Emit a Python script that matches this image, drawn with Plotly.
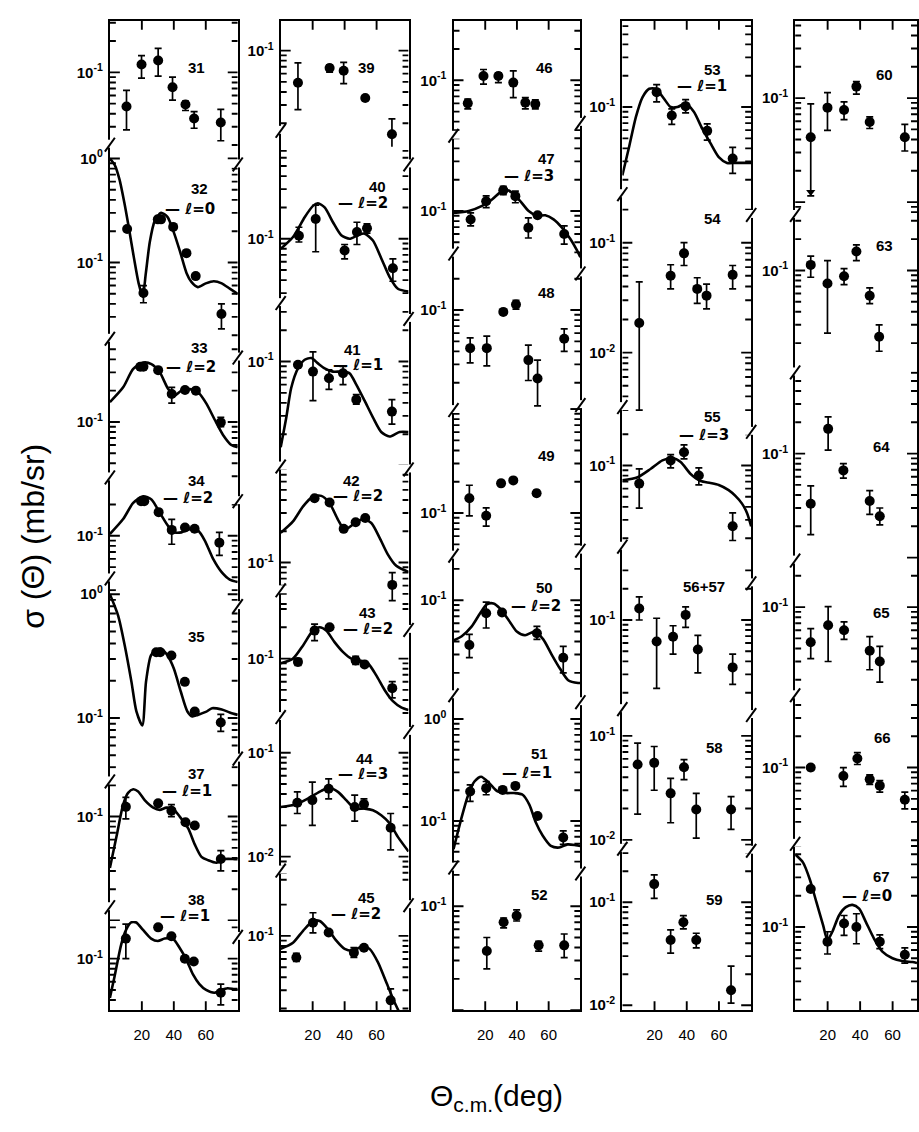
import math
import plotly.graph_objects as go

W, H = 919, 1132

# ---------------- data: theta_cm (deg) and sigma (mb/sr) ----------------
# panel 31
x31 = [10.4, 19.8, 30.2, 39.2, 47.3, 52.7, 69.4]
y31 = [0.047, 0.119, 0.13, 0.072, 0.049, 0.036, 0.033]
lo31 = [0.028, 0.088, 0.092, 0.054, 0.043, 0.029, 0.022]
hi31 = [0.067, 0.145, 0.17, 0.09, 0.053, 0.042, 0.044]
# panel 32
x32 = [10.8, 21.0, 30.0, 32.0, 39.6, 47.9, 53.7, 69.8]
y32 = [0.21, 0.051, 0.26, 0.26, 0.22, 0.123, 0.074, 0.032]
lo32 = [0.21, 0.041, 0.26, 0.26, 0.22, 0.123, 0.074, 0.023]
hi32 = [0.21, 0.060, 0.26, 0.26, 0.22, 0.123, 0.074, 0.040]
cx32 = [0, 3, 6, 9, 12, 15, 18, 20.5, 22.5, 25, 28, 32, 36, 40, 44, 48, 51, 55, 60, 65, 70, 75, 80]
cy32 = [1.0, 0.87, 0.63, 0.38, 0.21, 0.112, 0.063, 0.047, 0.079, 0.158, 0.25, 0.30, 0.275, 0.195,
        0.126, 0.079, 0.065, 0.058, 0.063, 0.066, 0.063, 0.056, 0.05]
# panel 33
x33 = [19.0, 21.0, 30.2, 38.7, 47.0, 53.8, 69.4]
y33 = [0.34, 0.34, 0.315, 0.186, 0.203, 0.20, 0.099]
lo33 = [0.34, 0.34, 0.315, 0.152, 0.203, 0.20, 0.090]
hi33 = [0.34, 0.34, 0.315, 0.215, 0.203, 0.20, 0.111]
cx33 = [0, 8.3, 14.6, 20.8, 26, 31.2, 36.5, 40.6, 44.8, 50, 55.2, 60.4, 65.6, 70.8, 76, 80]
cy33 = [0.155, 0.215, 0.324, 0.372, 0.36, 0.30, 0.207, 0.18, 0.20, 0.207, 0.193, 0.15, 0.105, 0.075, 0.06, 0.057]
# panel 34
x34 = [19.5, 21.5, 30.5, 38.7, 47.0, 53.0, 68.5]
y34 = [0.215, 0.215, 0.169, 0.114, 0.12, 0.117, 0.086]
lo34 = [0.215, 0.215, 0.169, 0.083, 0.12, 0.117, 0.065]
hi34 = [0.215, 0.215, 0.169, 0.144, 0.12, 0.117, 0.108]
cx34 = [0, 8.3, 14.6, 20.8, 26, 31.2, 36.5, 40.6, 44.8, 50, 55.2, 59.4, 64.6, 69.8, 75, 80]
cy34 = [0.104, 0.145, 0.207, 0.24, 0.224, 0.167, 0.124, 0.108, 0.108, 0.116, 0.112, 0.09, 0.06, 0.045, 0.038, 0.036]
# panel 35
x35 = [29.0, 31.5, 38.5, 46.9, 53.1, 69.4]
y35 = [0.34, 0.34, 0.32, 0.196, 0.113, 0.092]
lo35 = [0.34, 0.34, 0.32, 0.196, 0.113, 0.078]
hi35 = [0.34, 0.34, 0.32, 0.196, 0.113, 0.107]
cx35 = [0, 5.2, 9.3, 13.5, 16.6, 20.3, 22.6, 25.7, 28.8, 32, 36, 40, 44.4, 48.5, 51.6, 55, 60, 64, 70, 75, 80]
cy35 = [1.0, 0.67, 0.386, 0.196, 0.113, 0.087, 0.196, 0.321, 0.352, 0.363, 0.321, 0.251, 0.163, 0.113,
        0.103, 0.106, 0.112, 0.12, 0.117, 0.111, 0.106]
# panel 37
x37 = [10.0, 30.2, 38.5, 47.3, 53.1, 69.4]
y37 = [0.124, 0.134, 0.114, 0.088, 0.082, 0.039]
lo37 = [0.095, 0.134, 0.10, 0.088, 0.082, 0.030]
hi37 = [0.153, 0.134, 0.13, 0.088, 0.082, 0.047]
cx37 = [0, 4.2, 8.3, 11.4, 14.6, 17.7, 21.9, 27.1, 31.2, 35.4, 39.6, 43.7, 49, 53.1, 57.3, 61.5, 66.7, 71.9, 78.1, 80]
cy37 = [0.032, 0.065, 0.13, 0.169, 0.183, 0.174, 0.143, 0.122, 0.116, 0.122, 0.118, 0.10, 0.077, 0.054,
        0.041, 0.038, 0.036, 0.039, 0.039, 0.039]
# panel 38
x38 = [10.0, 30.2, 38.5, 46.9, 52.5, 69.4]
y38 = [0.156, 0.20, 0.164, 0.10, 0.094, 0.047]
lo38 = [0.10, 0.20, 0.164, 0.10, 0.094, 0.036]
hi38 = [0.215, 0.20, 0.164, 0.10, 0.094, 0.057]
cx38 = [0, 2.9, 7.1, 10.2, 13.3, 16.5, 20.6, 25.8, 30, 34.2, 39.4, 43.5, 47.7, 51.9, 56, 60.2, 65.4, 69.6, 73.7, 77.9, 80]
cy38 = [0.042, 0.067, 0.137, 0.19, 0.223, 0.223, 0.19, 0.156, 0.148, 0.156, 0.156, 0.128, 0.099, 0.071,
        0.057, 0.050, 0.047, 0.050, 0.052, 0.051, 0.051]
# panel 39
x39 = [10.8, 30.6, 39.4, 52.9, 69.6]
y39 = [0.049, 0.068, 0.064, 0.035, 0.0157]
lo39 = [0.027, 0.062, 0.048, 0.035, 0.010]
hi39 = [0.076, 0.073, 0.077, 0.035, 0.022]
# panel 40
x40 = [11.4, 21.9, 40.0, 47.7, 54.0, 70.2]
y40 = [0.107, 0.155, 0.077, 0.116, 0.126, 0.052]
lo40 = [0.093, 0.075, 0.064, 0.088, 0.113, 0.039]
hi40 = [0.129, 0.21, 0.088, 0.144, 0.139, 0.064]
cx40 = [0, 7.7, 15, 20.2, 23.3, 27.5, 32.7, 37.9, 43.1, 48.3, 52.5, 57.7, 62.9, 68.1, 73.3, 80]
cy40 = [0.080, 0.104, 0.161, 0.207, 0.219, 0.20, 0.144, 0.108, 0.10, 0.108, 0.112, 0.096, 0.065, 0.043, 0.033, 0.031]
# panel 41
x41 = [10.8, 20.2, 30.2, 39.0, 47.3, 69.6]
y41 = [0.093, 0.080, 0.069, 0.077, 0.043, 0.033]
lo41 = [0.093, 0.042, 0.054, 0.060, 0.039, 0.025]
hi41 = [0.093, 0.124, 0.083, 0.090, 0.048, 0.043]
cx41 = [0, 3.5, 6.6, 10.8, 15, 19.2, 23.3, 27.5, 32.7, 37.9, 43.1, 47.3, 52.5, 57.7, 62.9, 68.1, 74.4, 80]
cy41 = [0.015, 0.029, 0.056, 0.086, 0.104, 0.108, 0.096, 0.086, 0.080, 0.080, 0.077, 0.060, 0.042, 0.029,
        0.021, 0.019, 0.021, 0.021]
# panel 42
x42 = [21.2, 30.6, 39.4, 46.9, 52.9, 69.8]
y42 = [0.416, 0.378, 0.211, 0.244, 0.268, 0.061]
lo42 = [0.416, 0.378, 0.211, 0.244, 0.268, 0.043]
hi42 = [0.416, 0.378, 0.211, 0.244, 0.268, 0.080]
cx42 = [0, 7.7, 14, 20.2, 25.4, 30.6, 35.8, 40, 45.2, 51.5, 56.7, 61.9, 67, 72.3, 80]
cy42 = [0.193, 0.249, 0.347, 0.432, 0.438, 0.372, 0.259, 0.207, 0.232, 0.262, 0.24, 0.173, 0.12, 0.093, 0.081]
# panel 43
x43 = [10.8, 21.2, 30.6, 46.9, 52.5, 69.8]
y43 = [0.093, 0.186, 0.20, 0.096, 0.088, 0.052]
lo43 = [0.086, 0.149, 0.20, 0.088, 0.088, 0.042]
hi43 = [0.10, 0.215, 0.20, 0.105, 0.088, 0.060]
cx43 = [0, 7.7, 14, 20.2, 24.4, 28.5, 33.7, 38.9, 44.2, 49.4, 54.6, 59.8, 65, 70.2, 75.4, 80]
cy43 = [0.090, 0.10, 0.134, 0.186, 0.20, 0.186, 0.144, 0.116, 0.10, 0.096, 0.090, 0.069, 0.050, 0.039, 0.034, 0.032]
# panel 44
x44 = [10.4, 19.8, 30.0, 46.3, 52.1, 68.8]
y44 = [0.033, 0.035, 0.045, 0.030, 0.032, 0.019]
lo44 = [0.026, 0.020, 0.036, 0.022, 0.029, 0.0116]
hi44 = [0.042, 0.052, 0.056, 0.039, 0.036, 0.026]
cx44 = [0, 9.8, 18.1, 25.4, 30.6, 35.8, 41, 46.3, 52.5, 57.7, 62.9, 68.1, 73.3, 80]
cy44 = [0.030, 0.032, 0.037, 0.043, 0.046, 0.042, 0.035, 0.029, 0.029, 0.028, 0.025, 0.021, 0.0155, 0.0112]
# panel 45
x45 = [9.8, 20.2, 30.0, 45.8, 52.1, 68.8]
y45 = [0.062, 0.134, 0.108, 0.069, 0.077, 0.024]
lo45 = [0.057, 0.107, 0.108, 0.062, 0.077, 0.019]
hi45 = [0.068, 0.167, 0.108, 0.077, 0.077, 0.031]
cx45 = [0, 7.7, 14, 20.2, 24.4, 29.6, 34.8, 40, 45.2, 51.5, 55.6, 60.8, 66, 71.2, 76.5, 80]
cy45 = [0.075, 0.086, 0.112, 0.139, 0.139, 0.116, 0.090, 0.075, 0.072, 0.080, 0.075, 0.056, 0.036, 0.023, 0.016, 0.0139]
# panel 46
x46 = [9.0, 18.9, 28.3, 37.7, 45.3, 51.6]
y46 = [0.060, 0.11, 0.11, 0.095, 0.061, 0.059]
lo46 = [0.053, 0.092, 0.095, 0.068, 0.053, 0.053]
hi46 = [0.066, 0.127, 0.118, 0.123, 0.068, 0.065]
# panel 47
x47 = [10.8, 20.6, 31.4, 39.0, 47.2, 53.0, 69.8]
y47 = [0.083, 0.124, 0.158, 0.139, 0.069, 0.091, 0.060]
lo47 = [0.072, 0.108, 0.144, 0.12, 0.055, 0.091, 0.048]
hi47 = [0.096, 0.14, 0.173, 0.155, 0.086, 0.091, 0.072]
cx47 = [0, 9.6, 18, 24.3, 29.6, 32.7, 36.9, 42.2, 47.4, 52.6, 57.9, 63.1, 68.4, 73.6, 77.8, 80]
cy47 = [0.096, 0.10, 0.112, 0.129, 0.152, 0.161, 0.15, 0.124, 0.10, 0.090, 0.091, 0.083, 0.069, 0.054, 0.042, 0.036]
# panel 48
x48 = [10.5, 21.0, 31.4, 39.4, 47.2, 53.0, 69.8]
y48 = [0.043, 0.043, 0.096, 0.113, 0.033, 0.022, 0.053]
lo48 = [0.031, 0.029, 0.096, 0.102, 0.021, 0.012, 0.040]
hi48 = [0.054, 0.056, 0.096, 0.124, 0.046, 0.033, 0.066]
# panel 49
x49 = [10.0, 20.6, 30.0, 37.7, 52.4]
y49 = [0.139, 0.094, 0.193, 0.206, 0.155]
lo49 = [0.094, 0.075, 0.185, 0.198, 0.145]
hi49 = [0.185, 0.112, 0.205, 0.216, 0.165]
# panel 50
x50 = [10.0, 20.6, 30.6, 52.6, 69.2]
y50 = [0.037, 0.075, 0.076, 0.048, 0.028]
lo50 = [0.028, 0.054, 0.076, 0.042, 0.020]
hi50 = [0.047, 0.096, 0.076, 0.056, 0.036]
cx50 = [0, 5.2, 11.5, 16.8, 21, 25.2, 29.4, 34.6, 39.9, 45.1, 51.4, 56.6, 61.9, 67.1, 72.3, 78.6, 80]
cy50 = [0.041, 0.045, 0.056, 0.075, 0.091, 0.093, 0.083, 0.065, 0.050, 0.046, 0.050, 0.042, 0.030, 0.022,
        0.017, 0.016, 0.016]
# panel 51
x51 = [10.5, 20.6, 31.0, 39.0, 53.0, 69.2]
y51 = [0.195, 0.21, 0.202, 0.221, 0.112, 0.069]
lo51 = [0.156, 0.181, 0.202, 0.221, 0.112, 0.059]
hi51 = [0.226, 0.244, 0.202, 0.221, 0.112, 0.080]
cx51 = [0, 4.8, 9, 13.2, 17.4, 22.6, 27.8, 33.1, 38.4, 43.6, 47.8, 52, 56.2, 61.4, 66.7, 71.9, 77.1, 80]
cy51 = [0.053, 0.104, 0.175, 0.244, 0.272, 0.235, 0.195, 0.188, 0.188, 0.181, 0.145, 0.096, 0.072, 0.057,
        0.055, 0.059, 0.058, 0.057]
# panel 52
x52 = [21.0, 31.6, 39.8, 53.7, 69.8]
y52 = [0.037, 0.070, 0.081, 0.042, 0.042]
lo52 = [0.025, 0.062, 0.072, 0.037, 0.032]
hi52 = [0.050, 0.077, 0.092, 0.046, 0.054]
# panel 53
x53 = [21.3, 30.7, 39.3, 52.7, 68.5]
y53 = [0.139, 0.083, 0.102, 0.059, 0.032]
lo53 = [0.112, 0.068, 0.088, 0.048, 0.023]
hi53 = [0.164, 0.096, 0.118, 0.069, 0.041]
cx53 = [0, 4.3, 8.4, 12.5, 16.7, 20.8, 25.9, 30, 34.2, 39.3, 44.4, 49.6, 54.7, 59.9, 65, 70.2, 80]
cy53 = [0.022, 0.042, 0.080, 0.124, 0.15, 0.15, 0.12, 0.10, 0.10, 0.108, 0.090, 0.062, 0.045, 0.033, 0.029, 0.029, 0.029]
# panel 54
x54 = [10.5, 30.0, 38.3, 46.5, 52.3, 68.5]
y54 = [0.0186, 0.050, 0.080, 0.038, 0.033, 0.051]
lo54 = [0.003, 0.038, 0.062, 0.028, 0.025, 0.038]
hi54 = [0.044, 0.063, 0.10, 0.048, 0.042, 0.062]
# panel 55
x55 = [10.5, 30.0, 38.3, 47.5, 68.5]
y55 = [0.067, 0.112, 0.134, 0.080, 0.026]
lo55 = [0.039, 0.095, 0.116, 0.065, 0.019]
hi55 = [0.093, 0.127, 0.158, 0.095, 0.035]
cx55 = [0, 9.5, 17.7, 24.9, 31.1, 36.2, 42.4, 48.6, 54.7, 59.9, 66, 70.2, 74.3, 77.4, 80]
cy55 = [0.072, 0.077, 0.093, 0.112, 0.118, 0.108, 0.083, 0.071, 0.068, 0.065, 0.058, 0.051, 0.043, 0.035, 0.026]
# panel 56+57
x56 = [10.5, 21.3, 31.5, 39.3, 46.9, 68.5]
y56 = [0.129, 0.062, 0.069, 0.112, 0.052, 0.035]
lo56 = [0.10, 0.022, 0.047, 0.085, 0.031, 0.024]
hi56 = [0.167, 0.104, 0.088, 0.134, 0.071, 0.047]
# panel 58
x58 = [9.5, 19.8, 30.0, 38.3, 45.9, 67.5]
y58 = [0.053, 0.055, 0.028, 0.050, 0.0196, 0.0196]
lo58 = [0.0177, 0.030, 0.0146, 0.038, 0.0104, 0.0126]
hi58 = [0.085, 0.079, 0.039, 0.059, 0.028, 0.026]
# panel 59
x59 = [19.8, 30.0, 37.9, 45.9, 67.5]
y59 = [0.150, 0.043, 0.064, 0.043, 0.014]
lo59 = [0.109, 0.032, 0.055, 0.036, 0.0105]
hi59 = [0.184, 0.054, 0.074, 0.050, 0.024]
# panel 60 (first point is an upper limit: arrow)
x60 = [9.6, 19.9, 30.1, 37.7, 45.9, 67.5]
y60 = [0.042, 0.081, 0.077, 0.129, 0.059, 0.042]
lo60 = [0.0115, 0.049, 0.062, 0.109, 0.051, 0.031]
hi60 = [0.088, 0.113, 0.092, 0.144, 0.066, 0.056]
ax60 = [9.6]
ay60 = [0.0125]
# panel 63
x63 = [9.6, 19.9, 30.1, 37.7, 45.9, 51.7]
y63 = [0.113, 0.075, 0.088, 0.152, 0.057, 0.023]
lo63 = [0.086, 0.025, 0.073, 0.124, 0.048, 0.0167]
hi63 = [0.137, 0.124, 0.104, 0.176, 0.068, 0.030]
# panel 64
x64 = [9.6, 20.3, 29.7, 45.9, 52.1]
y64 = [0.033, 0.173, 0.069, 0.035, 0.025]
lo64 = [0.0166, 0.108, 0.058, 0.026, 0.0206]
hi64 = [0.049, 0.226, 0.080, 0.044, 0.030]
# panel 65
x65 = [9.6, 20.3, 30.1, 45.9, 52.1]
y65 = [0.046, 0.067, 0.060, 0.038, 0.030]
lo65 = [0.032, 0.030, 0.049, 0.025, 0.019]
hi65 = [0.062, 0.101, 0.072, 0.052, 0.042]
# panel 66
x66 = [9.6, 29.7, 38.3, 45.9, 52.1, 67.5]
y66 = [0.10, 0.083, 0.122, 0.077, 0.067, 0.049]
lo66 = [0.094, 0.066, 0.107, 0.069, 0.058, 0.040]
hi66 = [0.106, 0.10, 0.139, 0.085, 0.075, 0.058]
# panel 67
x67 = [9.6, 19.9, 30.1, 37.7, 52.1, 67.5]
y67 = [0.232, 0.072, 0.108, 0.10, 0.072, 0.054]
lo67 = [0.232, 0.055, 0.083, 0.069, 0.062, 0.045]
hi67 = [0.232, 0.09, 0.129, 0.134, 0.084, 0.063]
cx67 = [0, 4.9, 9, 13.1, 17.2, 19.9, 22.9, 27, 31.2, 35.3, 39.4, 43.5, 48.6, 53.7, 59.9, 66, 72.2, 75]
cy67 = [0.50, 0.416, 0.288, 0.173, 0.104, 0.075, 0.09, 0.129, 0.155, 0.163, 0.15, 0.112, 0.077, 0.058,
        0.050, 0.047, 0.046, 0.045]

DATA = {
    "31": (x31, y31, lo31, hi31, None, None),
    "32": (x32, y32, lo32, hi32, cx32, cy32),
    "33": (x33, y33, lo33, hi33, cx33, cy33),
    "34": (x34, y34, lo34, hi34, cx34, cy34),
    "35": (x35, y35, lo35, hi35, cx35, cy35),
    "37": (x37, y37, lo37, hi37, cx37, cy37),
    "38": (x38, y38, lo38, hi38, cx38, cy38),
    "39": (x39, y39, lo39, hi39, None, None),
    "40": (x40, y40, lo40, hi40, cx40, cy40),
    "41": (x41, y41, lo41, hi41, cx41, cy41),
    "42": (x42, y42, lo42, hi42, cx42, cy42),
    "43": (x43, y43, lo43, hi43, cx43, cy43),
    "44": (x44, y44, lo44, hi44, cx44, cy44),
    "45": (x45, y45, lo45, hi45, cx45, cy45),
    "46": (x46, y46, lo46, hi46, None, None),
    "47": (x47, y47, lo47, hi47, cx47, cy47),
    "48": (x48, y48, lo48, hi48, None, None),
    "49": (x49, y49, lo49, hi49, None, None),
    "50": (x50, y50, lo50, hi50, cx50, cy50),
    "51": (x51, y51, lo51, hi51, cx51, cy51),
    "52": (x52, y52, lo52, hi52, None, None),
    "53": (x53, y53, lo53, hi53, cx53, cy53),
    "54": (x54, y54, lo54, hi54, None, None),
    "55": (x55, y55, lo55, hi55, cx55, cy55),
    "56": (x56, y56, lo56, hi56, None, None),
    "58": (x58, y58, lo58, hi58, None, None),
    "59": (x59, y59, lo59, hi59, None, None),
    "60": (x60, y60, lo60, hi60, None, None),
    "63": (x63, y63, lo63, hi63, None, None),
    "64": (x64, y64, lo64, hi64, None, None),
    "65": (x65, y65, lo65, hi65, None, None),
    "66": (x66, y66, lo66, hi66, None, None),
    "67": (x67, y67, lo67, hi67, cx67, cy67),
}

# panel labels (text, centre x px, centre y px)
NUM_LABELS = [
    ("31", 197, 60), ("32", 200, 182), ("33", 200, 343), ("34", 197, 477), ("35", 197, 635),
    ("37", 197, 773), ("38", 197, 900),
    ("39", 367, 60), ("40", 378, 180), ("41", 353, 345), ("42", 352, 477), ("43", 368, 610),
    ("44", 365, 758), ("45", 367, 898),
    ("46", 545, 60), ("47", 547, 152), ("48", 547, 287), ("49", 547, 452), ("50", 545, 585),
    ("51", 540, 753), ("52", 540, 895),
    ("53", 713, 62), ("54", 713, 213), ("55", 713, 413), ("56+57", 705, 584), ("58", 715, 747),
    ("59", 715, 900),
    ("60", 885, 67), ("63", 885, 240), ("64", 882, 443), ("65", 882, 610), ("66", 883, 737),
    ("67", 882, 877),
]
L_LABELS = [
    ("0", 190, 203), ("2", 191, 363), ("2", 188, 495), ("1", 187, 791), ("1", 185, 917),
    ("2", 363, 197), ("1", 358, 360), ("2", 358, 493), ("2", 368, 627), ("3", 363, 774), ("2", 356, 915),
    ("3", 530, 170), ("2", 537, 604), ("1", 528, 773),
    ("1", 703, 79), ("3", 705, 431),
    ("0", 868, 897),
]

# ---------------- layout geometry (pixels) ----------------
COLS = [(110, 238, 80), (281, 409, 80), (454, 581, 80), (623, 752, 80), (796, 918, 75)]
# key, column, top px, bottom px, reference decade, its px, px per decade, labelled decades
SPECS = [
    ("31", 0, 13, 147, -1, 65, 105, [-1]),
    ("32", 0, 147, 342, 0, 152, 105, [0, -1]),
    ("33", 0, 342, 485, -1, 418, 105, [-1]),
    ("34", 0, 485, 589, -1, 533, 105, [-1]),
    ("35", 0, 589, 768, 0, 592, 125, [0, -1]),
    ("37", 0, 768, 922, -1, 816.5, 105, [-1]),
    ("38", 0, 922, 1012, -1, 960, 105, [-1]),
    ("39", 1, 13, 140, -1, 43, 105, [-1]),
    ("40", 1, 140, 305, -1, 233, 105, [-1]),
    ("41", 1, 305, 463, -1, 357, 105, [-1]),
    ("42", 1, 463, 605, -1, 560, 105, [-1]),
    ("43", 1, 605, 722, -1, 657, 105, [-1]),
    ("44", 1, 722, 887, -1, 752, 105, [-1, -2]),
    ("45", 1, 887, 1012, -1, 937, 105, [-1]),
    ("46", 2, 13, 122, -1, 73, 105, [-1]),
    ("47", 2, 122, 257, -1, 205, 105, [-1]),
    ("48", 2, 257, 403, -1, 305, 105, [-1]),
    ("49", 2, 403, 550, -1, 510, 105, [-1]),
    ("50", 2, 550, 697, -1, 598, 105, [-1]),
    ("51", 2, 697, 870, 0, 718, 103, [0, -1]),
    ("52", 2, 870, 1012, -1, 907, 105, [-1]),
    ("53", 3, 13, 197, -1, 100, 105, [-1]),
    ("54", 3, 197, 415, -1, 237, 111, [-1, -2]),
    ("55", 3, 415, 560, -1, 462, 105, [-1]),
    ("56", 3, 560, 710, -1, 618, 105, [-1]),
    ("58", 3, 710, 849, -1, 735, 105, [-1, -2]),
    ("59", 3, 849, 1012, -1, 903, 104, [-1, -2]),
    ("60", 4, 13, 208, -1, 91, 105, [-1]),
    ("63", 4, 208, 367, -1, 265, 105, [-1]),
    ("64", 4, 367, 557, -1, 450, 105, [-1]),
    ("65", 4, 557, 693, -1, 605, 105, [-1]),
    ("66", 4, 693, 843, -1, 767, 105, [-1]),
    ("67", 4, 843, 1012, -1, 928, 105, [-1]),
]
BREAKS_L = {0: [137, 333, 473, 575, 780, 907], 1: [123, 297, 462, 587, 715, 870],
            2: [128, 247, 405, 552, 693, 867], 3: [187, 402, 543, 707, 848], 4: [208, 367, 557, 693, 843]}
BREAKS_R = {0: [157, 352, 497, 603, 757, 937], 1: [157, 313, 465, 627, 730, 905],
            2: [115, 267, 400, 547, 700, 873], 3: [208, 427, 580, 713, 850], 4: []}
XTICKS = [20, 40, 60]
MAJOR_LEN, MINOR_LEN, XTICK_LEN = 10, 6, 9

FONT = "Liberation Sans, Arial, DejaVu Sans, sans-serif"
fig = go.Figure()
lay = {}
shapes = []

for i, (key, col, top, bot, e, epx, dpx, labd) in enumerate(SPECS, start=1):
    x0, x1, xr = COLS[col]
    pw, ph = x1 - x0, bot - top
    ppd = pw / xr
    ytop = e + (epx - top) / dpx
    ybot = e - (bot - epx) / dpx
    xn = "x" if i == 1 else f"x{i}"
    yn = "y" if i == 1 else f"y{i}"
    xs, ys, lo, hi, cx, cy = DATA[key]

    # tick ladders (both vertical borders) and x ticks, as thin line traces
    majors = [k for k in range(math.floor(ybot), math.ceil(ytop) + 1) if ybot <= k <= ytop]
    minors = []
    for k in range(math.floor(ybot) - 1, math.ceil(ytop) + 1):
        for m in range(2, 10):
            v = math.log10(m) + k
            if ybot + 0.008 <= v <= ytop - 0.008:
                minors.append(v)
    tx, ty = [], []
    for v, ln in [(k, MAJOR_LEN) for k in majors] + [(v, MINOR_LEN) for v in minors]:
        d = ln / ppd
        tx += [0, d, None, xr - d, xr, None]
        ty += [10 ** v, 10 ** v, None, 10 ** v, 10 ** v, None]
    is_top = top <= 13
    is_bot = bot >= 1012
    if is_top or is_bot:
        dl = XTICK_LEN / dpx
        for t in XTICKS:
            tx += [t, t, None]
            ty += ([10 ** ytop, 10 ** (ytop - dl), None] if is_top else [10 ** ybot, 10 ** (ybot + dl), None])
    fig.add_trace(go.Scatter(x=tx, y=ty, mode="lines", xaxis=xn, yaxis=yn, hoverinfo="skip",
                             line=dict(color="black", width=1.9)))

    if cx is not None:
        fig.add_trace(go.Scatter(x=cx, y=cy, mode="lines", xaxis=xn, yaxis=yn,
                                 line=dict(color="black", width=2.6, shape="spline", smoothing=0.7),
                                 hoverinfo="skip"))
    fig.add_trace(go.Scatter(
        x=xs, y=ys, mode="markers", xaxis=xn, yaxis=yn,
        marker=dict(color="black", size=10),
        error_y=dict(type="data", symmetric=False,
                     array=[h - v for h, v in zip(hi, ys)],
                     arrayminus=[v - l for l, v in zip(lo, ys)],
                     color="black", thickness=1.7, width=3.5)))
    if key == "60":
        fig.add_trace(go.Scatter(x=ax60, y=ay60, mode="markers", xaxis=xn, yaxis=yn,
                                 marker=dict(color="black", size=8, symbol="triangle-down")))

    xa = dict(domain=[x0 / W, x1 / W], range=[0, xr], anchor=yn, showgrid=False, zeroline=False,
              fixedrange=True, ticks="")
    if is_top:
        xa.update(side="top", showline=True, linecolor="black", linewidth=2.2, showticklabels=False)
    elif is_bot:
        xa.update(side="bottom", showline=True, linecolor="black", linewidth=2.2,
                  tickvals=XTICKS, ticktext=[str(t) for t in XTICKS], ticklabelstandoff=10,
                  tickfont=dict(size=15, color="black", family=FONT))
    else:
        xa.update(showline=False, showticklabels=False)

    ya = dict(domain=[1 - bot / H, 1 - top / H], type="log", range=[ybot, ytop], anchor=xn,
              showgrid=False, zeroline=False, fixedrange=True,
              showline=True, linecolor="black", linewidth=2.2, mirror=True, ticks="",
              tickmode="array", tickvals=[10 ** k for k in labd],
              ticktext=[f"<b>10<sup>{k}</sup></b>" for k in labd], ticklabelstandoff=2,
              tickfont=dict(size=15, color="black", family=FONT))
    lay["xaxis" if i == 1 else f"xaxis{i}"] = xa
    lay["yaxis" if i == 1 else f"yaxis{i}"] = ya

# break marks on the vertical borders
for col, (x0, x1, xr) in enumerate(COLS):
    for xpx, lst in ((x0, BREAKS_L[col]), (x1, BREAKS_R[col])):
        for ypx in lst:
            shapes.append(dict(type="rect", xref="paper", yref="paper", layer="above",
                               x0=(xpx - 11) / W, x1=(xpx + 11) / W, y0=1 - (ypx + 4) / H, y1=1 - (ypx - 4) / H,
                               fillcolor="white", line=dict(width=0)))
            shapes.append(dict(type="line", xref="paper", yref="paper", layer="above",
                               x0=(xpx - 5) / W, y0=1 - (ypx + 8) / H, x1=(xpx + 5) / W, y1=1 - (ypx - 6) / H,
                               line=dict(color="black", width=2)))

ann = []
for text, px, py in NUM_LABELS:
    ann.append(dict(x=px / W, y=1 - py / H, xref="paper", yref="paper", text=f"<b>{text}</b>",
                    showarrow=False, xanchor="center", yanchor="middle",
                    font=dict(size=15, color="black", family=FONT)))
for lv, px, py in L_LABELS:
    ann.append(dict(x=px / W, y=1 - py / H, xref="paper", yref="paper", text=f"<b>— ℓ={lv}</b>",
                    showarrow=False, xanchor="center", yanchor="middle",
                    font=dict(size=15, color="black", family="DejaVu Sans, sans-serif")))
ann.append(dict(x=33 / W, y=1 - 533 / H, xref="paper", yref="paper", text="σ (Θ) (mb/sr)",
                textangle=-90, showarrow=False, xanchor="center", yanchor="middle",
                font=dict(size=32, color="black", family=FONT)))
ann.append(dict(x=497 / W, y=1 - 1100 / H, xref="paper", yref="paper", text="Θ<sub>c.m.</sub>(deg)",
                showarrow=False, xanchor="center", yanchor="middle",
                font=dict(size=30, color="black", family=FONT)))

fig.update_layout(width=W, height=H, margin=dict(l=0, r=0, t=0, b=0), showlegend=False,
                  plot_bgcolor="rgba(0,0,0,0)", paper_bgcolor="white",
                  annotations=ann, shapes=shapes, **lay)
fig.write_html("out.html", config={"displayModeBar": False})
